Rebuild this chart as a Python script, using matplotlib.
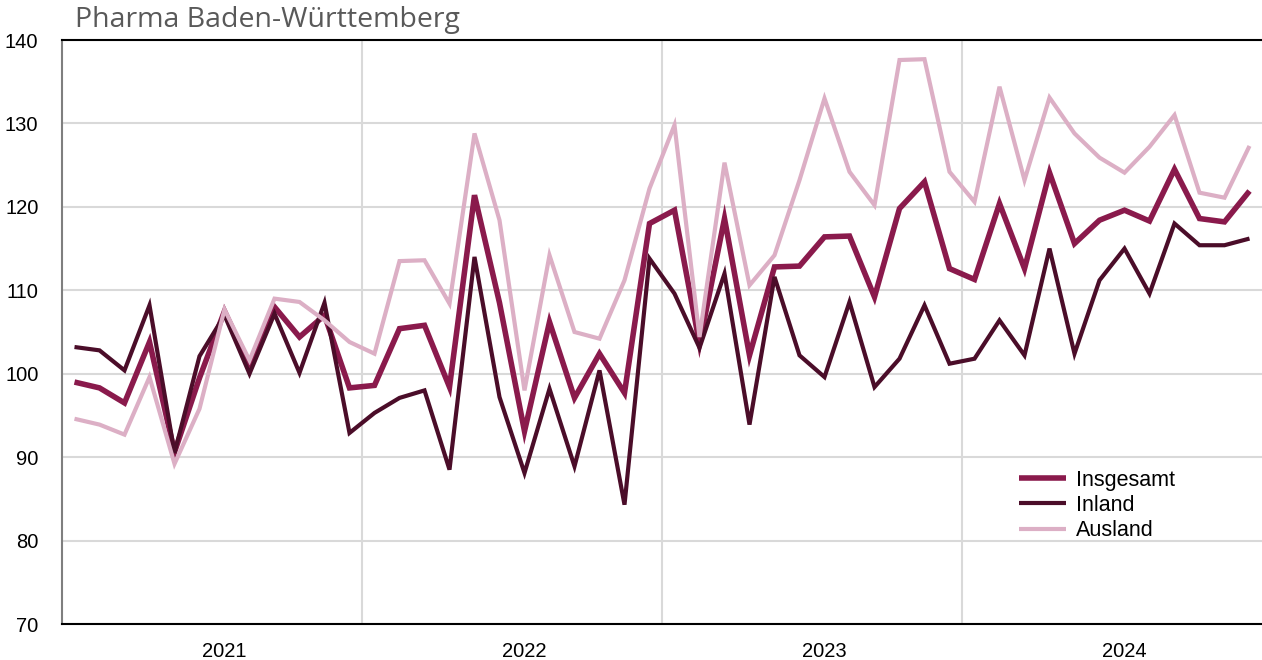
import matplotlib
matplotlib.use("Agg")
import matplotlib.pyplot as plt
import numpy as np

title = "Pharma Baden-Württemberg"
years = ["2021", "2022", "2023", "2024"]
series_names = ["Insgesamt", "Inland", "Ausland"]

insgesamt = [99.0, 98.3, 96.5, 103.8, 90.6, 99.5, 107.5, 101.0, 108.0, 104.4, 107.0, 98.3,
             98.6, 105.4, 105.8, 98.4, 121.4, 108.5, 93.1, 106.2, 97.1, 102.4, 97.7, 118.0,
             119.6, 103.6, 118.6, 102.2, 112.8, 112.9, 116.4, 116.5, 109.2, 119.8, 123.0, 112.6,
             111.3, 120.4, 112.6, 124.1, 115.6, 118.4, 119.6, 118.3, 124.5, 118.6, 118.2, 121.9]
inland = [103.2, 102.8, 100.4, 108.2, 90.5, 102.1, 107.0, 100.0, 107.2, 100.1, 108.5, 92.9,
          95.3, 97.1, 98.0, 88.5, 114.0, 97.2, 88.1, 98.2, 88.9, 100.4, 84.3, 113.8,
          109.6, 103.1, 112.0, 93.9, 111.6, 102.2, 99.6, 108.6, 98.4, 101.8, 108.2, 101.2,
          101.8, 106.4, 102.2, 115.0, 102.4, 111.2, 115.0, 109.6, 118.0, 115.4, 115.4, 116.2]
ausland = [94.6, 93.9, 92.7, 99.6, 89.2, 95.8, 107.7, 101.6, 109.0, 108.6, 106.4, 103.8,
           102.4, 113.5, 113.6, 108.4, 128.8, 118.4, 98.0, 114.2, 105.0, 104.2, 111.2, 122.2,
           129.8, 104.4, 125.3, 110.6, 114.2, 123.2, 133.0, 124.2, 120.2, 137.6, 137.7, 124.2,
           120.6, 134.4, 123.2, 133.1, 128.8, 125.9, 124.1, 127.2, 131.0, 121.7, 121.1, 127.3]

colors = ["#8a1a4c", "#4b0d29", "#dcafc5"]
widths = [4.0, 3.0, 3.0]

plt.rcParams['font.family'] = ['Liberation Sans', 'DejaVu Sans']
fig = plt.figure(figsize=(12.62, 6.6), dpi=100)
ax = fig.add_axes([62/1262, 1-624/660, 1200/1262, 584/660])

n = len(insgesamt)
x = np.arange(n) + 0.5
for vals, name, c, w in zip([insgesamt, inland, ausland], series_names, colors, widths):
    ax.plot(x, vals, color=c, lw=w, label=name, solid_joinstyle='miter', solid_capstyle='butt', zorder=3)

ax.set_xlim(0, n)
ax.set_ylim(70, 140)
ax.set_yticks(np.arange(70, 141, 10))
ax.set_xticks([12 * i + 6.5 for i in range(len(years))])
ax.set_xticklabels(years)
ax.set_xticks([12, 24, 36], minor=True)
ax.tick_params(axis='both', which='both', length=0, labelsize=14.5, colors='black')
ax.tick_params(axis='y', pad=17)
ax.tick_params(axis='x', pad=13)
ax.grid(axis='y', which='major', color='#d9d9d9', lw=1.5, zorder=0)
ax.grid(axis='x', which='minor', color='#d9d9d9', lw=1.5, zorder=0)
ax.grid(axis='x', which='major', visible=False)

for s in ['top', 'bottom']:
    ax.spines[s].set_color('black')
    ax.spines[s].set_linewidth(1.5)
ax.spines['left'].set_color('#7f7f7f')
ax.spines['left'].set_linewidth(1.5)
ax.spines['right'].set_visible(False)

leg = ax.legend(loc='upper left', bbox_to_anchor=(0.790, 0.279), frameon=False,
                fontsize=15.5, handlelength=2.2, handletextpad=0.45, labelspacing=0.2,
                borderaxespad=0)

fig.text(75/1262, 1-20/660, title, fontsize=20.5, color='#595959', family='Open Sans',
         ha='left', va='center')

fig.savefig("out.png", dpi=100)
